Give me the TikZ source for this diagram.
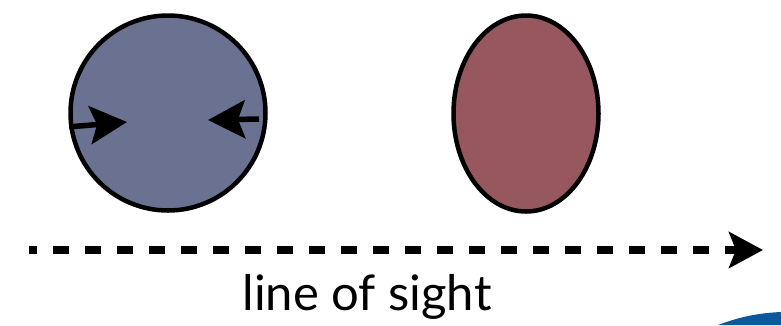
\documentclass[tikz,border=0pt]{standalone}
\usepackage{fontspec}
\setmainfont{Lato}
\usetikzlibrary{shapes.geometric,arrows.meta}
\definecolor{cloudblue}{RGB}{107,114,145}
\definecolor{cloudred}{RGB}{150,88,94}
\definecolor{logoblue}{RGB}{12,88,154}
\begin{document}
\begin{tikzpicture}[
  x=1pt, y=-1pt,
  cloud/.style={draw, line width=4.5pt},
  push/.style={line width=5.5pt, -{Stealth[length=37pt, width=38pt, inset=7pt]}},
  sight/.style={line width=8pt, dash pattern=on 16pt off 16pt, dash phase=8pt,
    -{Stealth[length=34pt, width=36pt, inset=7pt]}}
]
\useasboundingbox (0,0) rectangle (781,325);
% the two clouds
\node[cloud, circle, fill=cloudblue, minimum size=195pt] (blue) at (168,113) {};
\node[cloud, ellipse, fill=cloudred, minimum width=145pt, minimum height=196pt] (red) at (526,113.5) {};
% compression arrows
\coordinate (inL) at (127,122);
\coordinate (inR) at (208,120);
\coordinate (outR) at (259,119);
\draw[push] (blue.188) -- (inL);
\draw[push] (outR) -- (inR);
% line of sight
\coordinate (losA) at (29,250);
\coordinate (losB) at (763,250);
\draw[sight] (losA) -- (losB);
\node[anchor=base, inner sep=0pt, font=\fontsize{49}{54}\selectfont] (los) at (367,310) {line of sight};
% corner of the logo
\fill[logoblue] (718,325) .. controls (742,316) and (760,313) .. (781,312) -- (781,325) -- cycle;
\end{tikzpicture}
\end{document}
